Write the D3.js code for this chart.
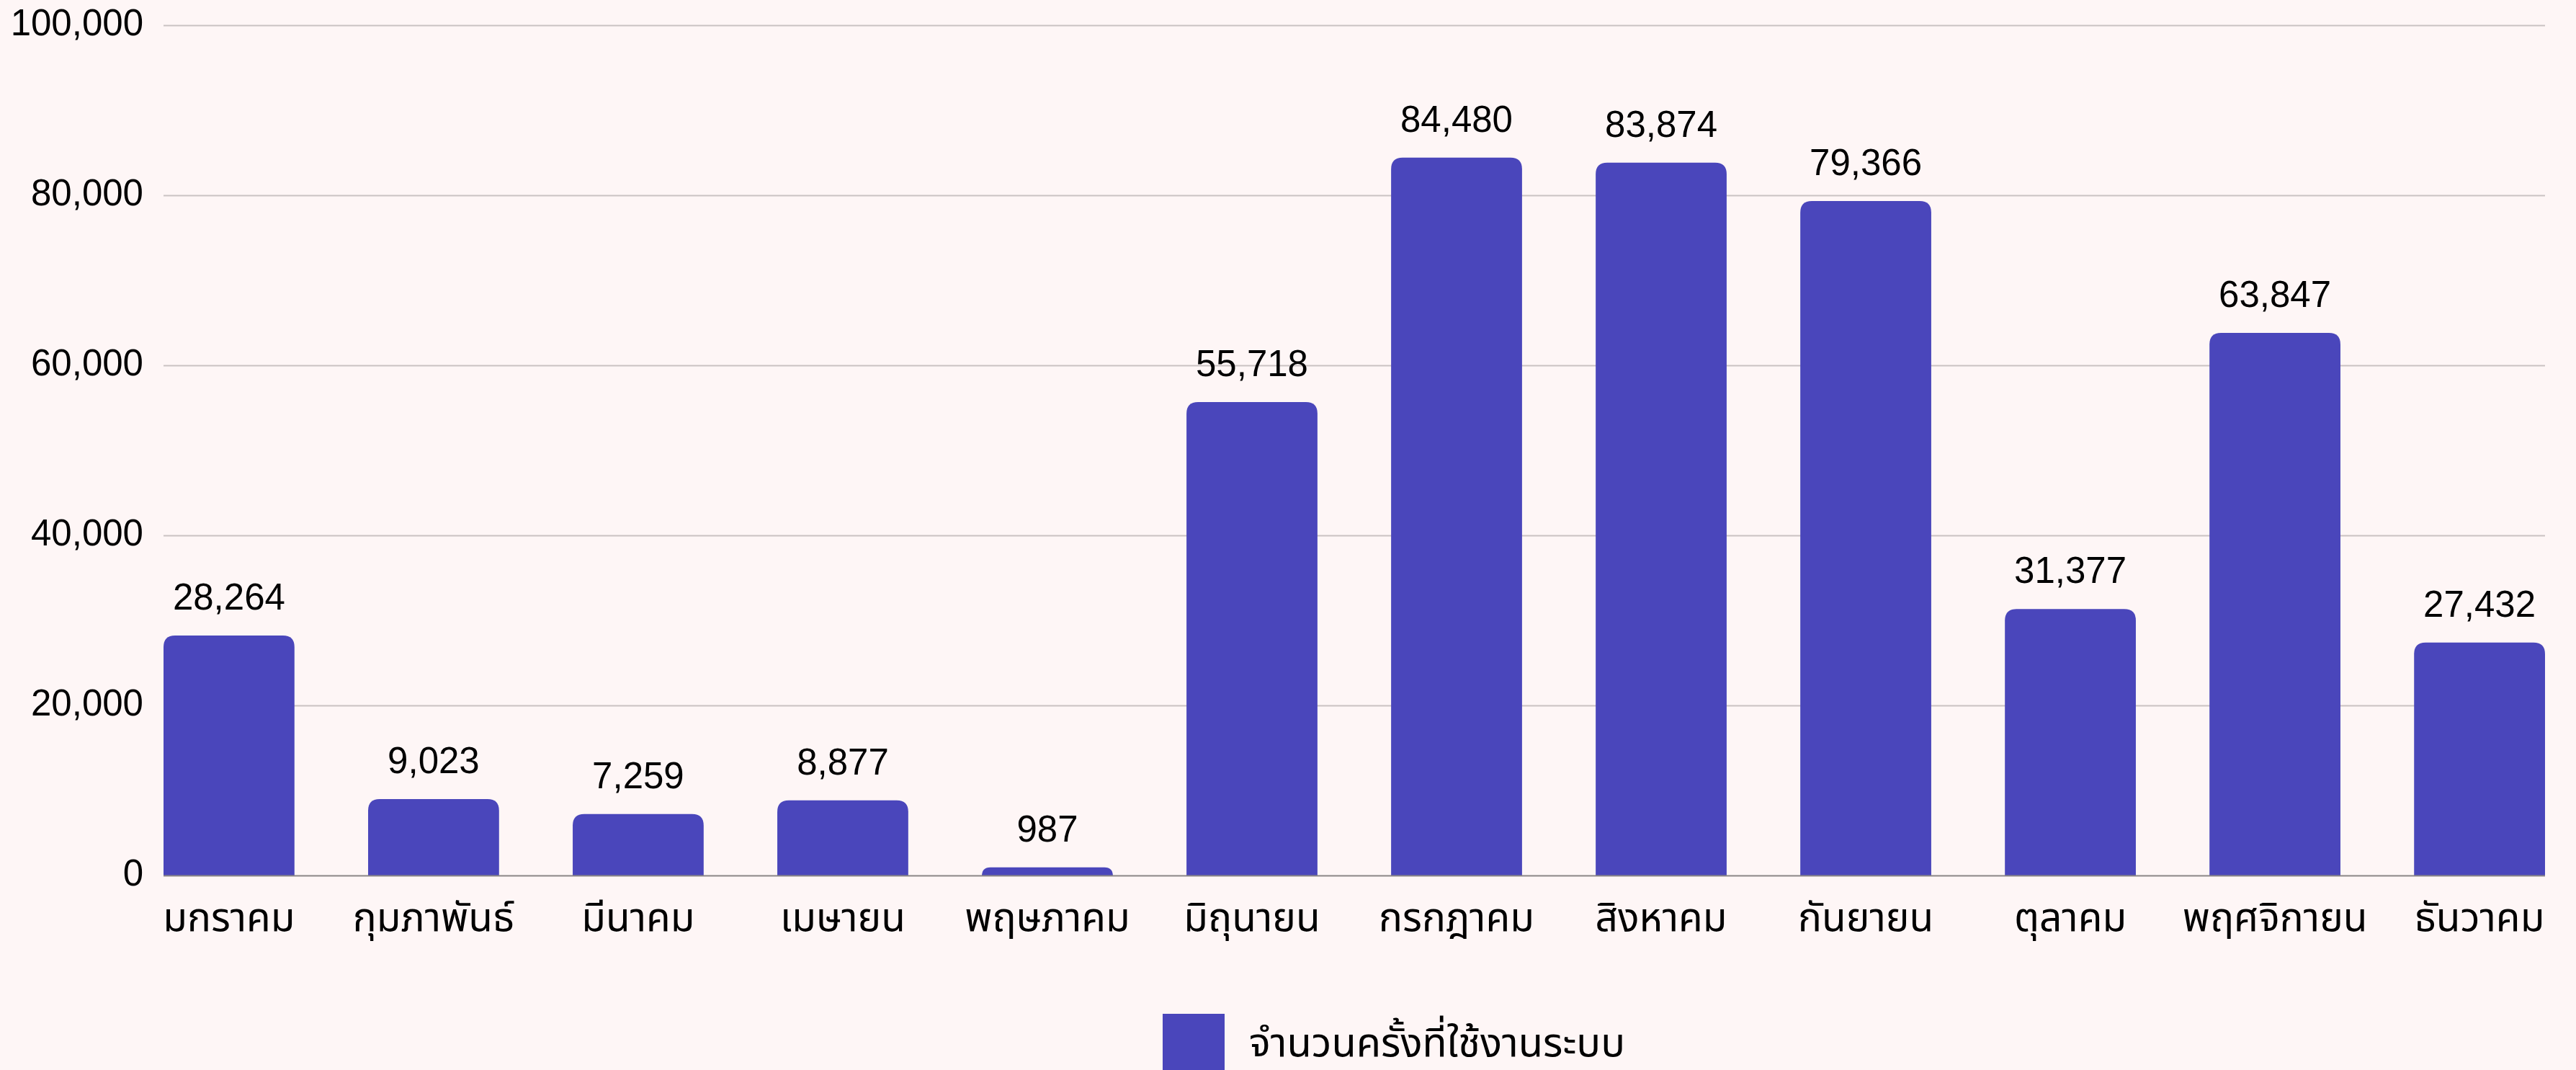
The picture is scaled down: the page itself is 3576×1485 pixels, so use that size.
<!DOCTYPE html>
<html>
<head>
<meta charset="utf-8">
<script src="https://cdn.jsdelivr.net/npm/d3@7/dist/d3.min.js"></script>
<style>
  html, body { margin: 0; padding: 0; background: #fef6f6; }
  svg { display: block; }
</style>
</head>
<body>
<svg id="chart" width="3576" height="1485"></svg>
<script>
const months = ["มกราคม","กุมภาพันธ์","มีนาคม","เมษายน","พฤษภาคม","มิถุนายน","กรกฎาคม","สิงหาคม","กันยายน","ตุลาคม","พฤศจิกายน","ธันวาคม"];
const usage = [28264, 9023, 7259, 8877, 987, 55718, 84480, 83874, 79366, 31377, 63847, 27432];
const yTicks = [0, 20000, 40000, 60000, 80000, 100000];
const seriesName = "จำนวนครั้งที่ใช้งานระบบ";

(function () {
const W = 3576, H = 1485;
const mLeft = 227, mRight = 3533, mTop = 35.5, mBottom = 1215.5;
const barColor = "#4a46bb";
const numFont = "'Liberation Sans', Arial, Helvetica, sans-serif";
const thaiFont = "'Noto Sans Thai', 'Noto Sans', 'Liberation Sans', sans-serif";

const svg = d3.select("#chart");
svg.append("rect").attr("width", W).attr("height", H).attr("fill", "#fef6f6");

const x = d3.scaleBand().domain(months).range([mLeft, mRight]).paddingInner(0.36).paddingOuter(0);
const y = d3.scaleLinear().domain([0, 100000]).range([mBottom, mTop]);
const fmt = d3.format(",");

// gridlines
svg.append("g").selectAll("line").data(yTicks.filter(d => d > 0)).join("line")
  .attr("x1", mLeft).attr("x2", mRight)
  .attr("y1", d => y(d)).attr("y2", d => y(d))
  .attr("stroke", "#c9c2c2").attr("stroke-width", 2);

// y axis labels
const yAxis = d3.axisLeft(y).tickValues(yTicks).tickFormat(fmt).tickSize(0).tickPadding(28);
const gy = svg.append("g").attr("transform", `translate(${mLeft},0)`).call(yAxis);
gy.select(".domain").remove();
gy.selectAll("text").attr("font-family", numFont).attr("font-size", 51).attr("fill", "#000")
  .attr("dy", "0.26em");

// bars with rounded top corners
const r = 16;
function barPath(d, i) {
  const x0 = x(months[i]), w = x.bandwidth();
  const yt = y(d), yb = y(0);
  const rr = Math.min(r, (yb - yt));
  return `M${x0},${yb} L${x0},${yt + rr} Q${x0},${yt} ${x0 + rr},${yt} L${x0 + w - rr},${yt} Q${x0 + w},${yt} ${x0 + w},${yt + rr} L${x0 + w},${yb} Z`;
}
svg.append("g").selectAll("path").data(usage).join("path")
  .attr("d", (d, i) => barPath(d, i))
  .attr("fill", barColor);

// baseline
svg.append("line").attr("x1", mLeft).attr("x2", mRight).attr("y1", y(0)).attr("y2", y(0))
  .attr("stroke", "#8a8585").attr("stroke-width", 2);

// value labels
svg.append("g").selectAll("text").data(usage).join("text")
  .attr("x", (d, i) => x(months[i]) + x.bandwidth() / 2)
  .attr("y", d => y(d) - 36)
  .attr("text-anchor", "middle")
  .attr("font-family", numFont).attr("font-size", 51).attr("fill", "#000")
  .text(d => fmt(d));

// x axis labels
const xAxis = d3.axisBottom(x).tickSize(0).tickPadding(0);
const gx = svg.append("g").attr("transform", `translate(0,${mBottom})`).call(xAxis);
gx.select(".domain").remove();
gx.selectAll("text").attr("font-family", thaiFont).attr("font-size", 55).attr("fill", "#000")
  .attr("dy", null).attr("y", 76);

// legend
const lg = svg.append("g");
lg.append("rect").attr("x", 1614).attr("y", 1407).attr("width", 86).attr("height", 86).attr("fill", barColor);
lg.append("text").attr("x", 1734).attr("y", 1466)
  .attr("font-family", thaiFont).attr("font-size", 56).attr("fill", "#000")
  .text(seriesName);
})();
</script>
</body>
</html>
